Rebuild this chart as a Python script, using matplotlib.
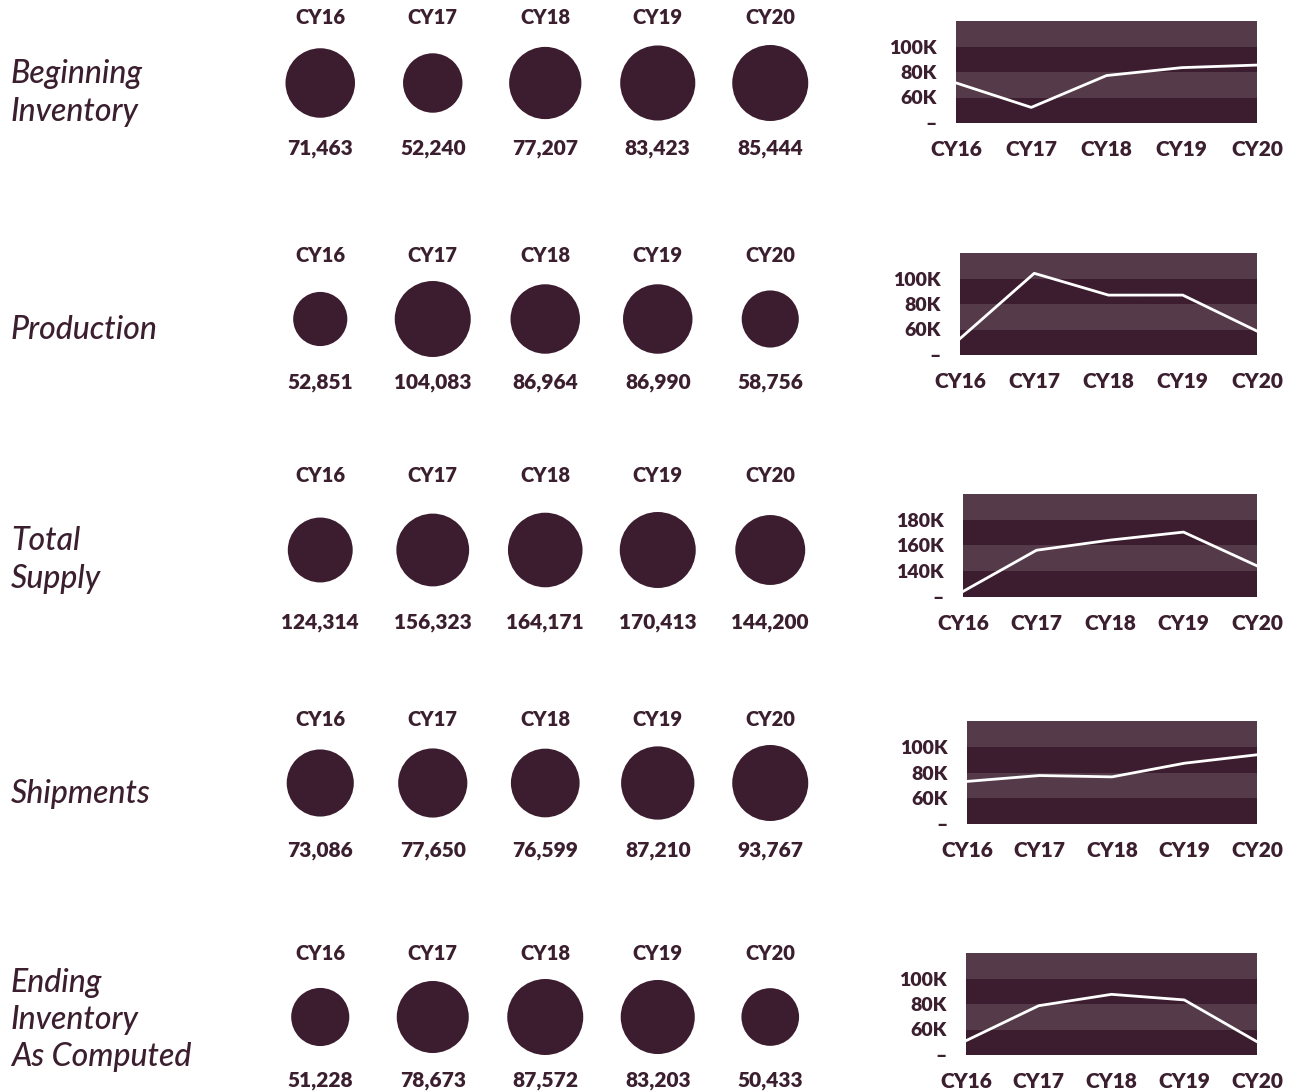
import numpy as np
import matplotlib.pyplot as plt

years = ["CY16", "CY17", "CY18", "CY19", "CY20"]
titles = ["Beginning\nInventory", "Production", "Total\nSupply", "Shipments",
          "Ending\nInventory\nAs Computed"]
beginning = [71463, 52240, 77207, 83423, 85444]
production = [52851, 104083, 86964, 86990, 58756]
supply = [124314, 156323, 164171, 170413, 144200]
shipments = [73086, 77650, 76599, 87210, 93767]
ending = [51228, 78673, 87572, 83203, 50433]
series = [beginning, production, supply, shipments, ending]
ylims = [(40000, 120000), (40000, 120000), (120000, 200000), (40000, 120000), (40000, 120000)]

DARK = "#3c1c2f"
LIGHT = "#553b49"
TXT = "#3b1f2f"
BOLD = 800  # Lato's "Bold" file here renders light, the 800 one matches

W, H = 1295, 1092
plt.rcParams['font.family'] = ['Lato', 'DejaVu Sans']
fig = plt.figure(figsize=(W / 100, H / 100), dpi=100)

# pixel layout per row
circ_y = [83, 319, 550, 783, 1017]
lab_y = [18, 255, 476, 720, 954]
val_y = [149, 382, 623, 850, 1080]
title_y = [93, 330, 560, 794, 1020]
box = [(956, 21, 123), (960, 253, 355), (963, 494, 597), (967, 721, 824), (966, 953, 1055)]
box_right = 1257

def fx(px):
    return px / W

def fy(py):
    return 1 - py / H

for r, vals in enumerate(series):
    # row title
    fig.text(fx(11), fy(title_y[r]), titles[r], ha="left", va="center", fontsize=23,
             style="italic", fontweight=500, color=TXT, linespacing=1.3)

    # bubbles, area proportional to value, scaled per row
    ax = fig.add_axes([fx(264), fy(circ_y[r] + 60), fx(562.5), 120 / H])
    ax.set_xlim(-0.5, 4.5)
    ax.set_ylim(-1, 1)
    ax.axis("off")
    v = np.array(vals, dtype=float)
    d_px = 76 * np.sqrt(v / v.max())
    ax.scatter(np.arange(5), np.zeros(5), s=(d_px * 0.72) ** 2, color=DARK, lw=0)
    for i in range(5):
        cx = fx(264 + 112.5 * (i + 0.5))
        fig.text(cx, fy(lab_y[r]), years[i], ha="center", va="center",
                 fontsize=14.5, fontweight=BOLD, color=TXT)
        fig.text(cx, fy(val_y[r]), f"{vals[i]:,}", ha="center", va="center",
                 fontsize=15, fontweight=BOLD, color=TXT)

    # mini line chart with banded background
    left, top, bottom = box[r]
    lax = fig.add_axes([fx(left), fy(bottom), fx(box_right - left), (bottom - top) / H])
    lo, hi = ylims[r]
    edges = np.arange(lo, hi + 1, 20000)
    for k in range(len(edges) - 1):
        lax.axhspan(edges[k], edges[k + 1], color=DARK if k % 2 == 0 else LIGHT, lw=0)
    lax.plot(np.arange(5), vals, color="white", lw=2)
    lax.set_xlim(0, 4)
    lax.set_ylim(lo, hi)
    lax.set_yticks(edges[:-1])
    lax.set_yticklabels(["–"] + [f"{int(t / 1000)}K" for t in edges[1:-1]])
    lax.set_xticks(range(5))
    lax.set_xticklabels(years)
    for s in lax.spines.values():
        s.set_visible(False)
    lax.tick_params(axis="x", length=0, labelsize=15, labelcolor=TXT, pad=12)
    lax.tick_params(axis="y", length=0, labelsize=14, labelcolor=TXT, pad=14)
    for t in lax.get_xticklabels() + lax.get_yticklabels():
        t.set_fontweight(BOLD)

fig.savefig("out.png", dpi=100)
plt.close(fig)
